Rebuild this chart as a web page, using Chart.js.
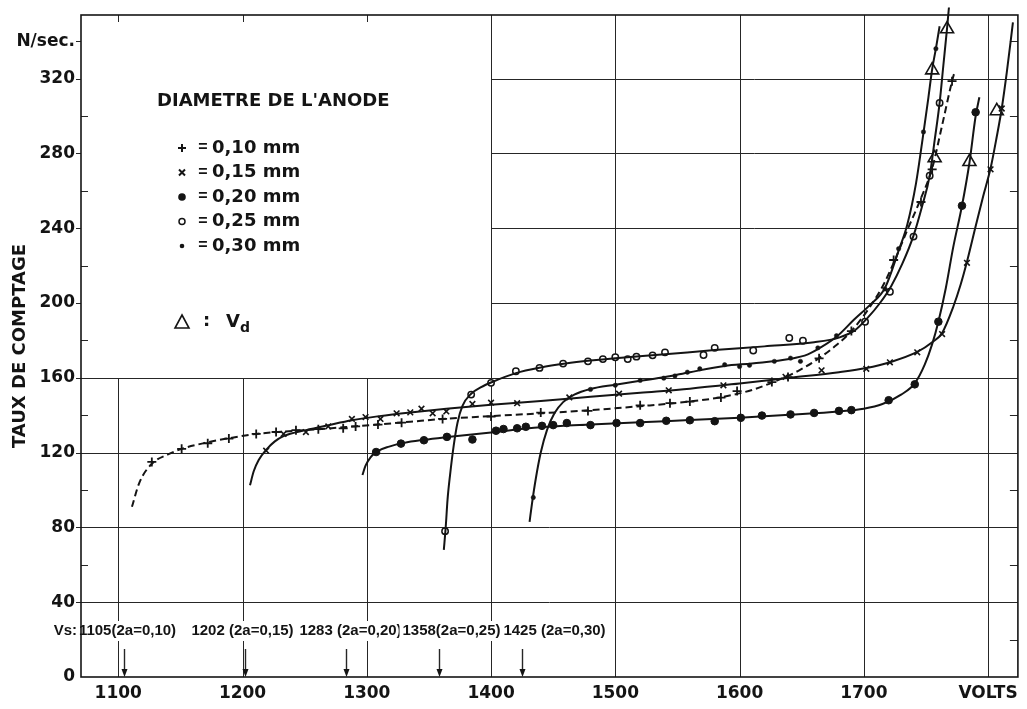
<!DOCTYPE html>
<html>
<head>
<meta charset="utf-8">
<script src="https://cdn.jsdelivr.net/npm/chart.js@4/dist/chart.umd.min.js"></script>
<style>
  html, body { margin: 0; padding: 0; background: #fff; }
</style>
</head>
<body>
<canvas id="chart" width="1027" height="709"></canvas>
<script>
// Axis ranges and tick labels
const xRange = [1070, 1824];
const yRange = [0, 354];
const xTickLabels = { 1100: '1100', 1200: '1200', 1300: '1300', 1400: '1400', 1500: '1500', 1600: '1600', 1700: '1700', 1800: 'VOLTS' };
const yTickLabels = { 0: '0', 40: '40', 80: '80', 120: '120', 160: '160', 200: '200', 240: '240', 280: '280', 320: '320', 340: 'N/sec.' };
const gridX = [1100, 1200, 1300, 1400, 1500, 1600, 1700, 1800];
const gridY = [40, 80, 120, 160, 200, 240, 280, 320];
const openCorner = { x: 1400, y: 160 }; // no grid up-left of this (legend area)

// Threshold voltages Vs
const vsValues = [1105, 1202, 1283, 1358, 1425];
const vsLabels = ['1105(2a=0,10)', '1202 (2a=0,15)', '1283 (2a=0,20)', '1358(2a=0,25)', '1425 (2a=0,30)'];

// Anode diameter 0,10 mm (+, dashed)
const curve010 = [[1111,91],[1117,104],[1127,114],[1140,119],[1151,122],[1172,125.5],[1190,127.8],[1211,130],[1240,131.5],[1261,132.5],[1290,134],[1309,135],[1335,136.5],[1361,138],[1400,139.5],[1440,141],[1478,142.6],[1520,144.8],[1560,147.3],[1585,149.6],[1610,153.5],[1630,158.5],[1648,164],[1664,170.5],[1678,177.5],[1690,185],[1705,198],[1716,210],[1725,223],[1735,239],[1746,256],[1755,272],[1763,295],[1771,318.6],[1773,323.5]];
const marks010 = [[1127,115],[1151,122],[1172,125],[1189,127.5],[1211,130],[1227,131],[1243,132],[1261,132.5],[1281,133],[1291,134],[1309,135],[1328,136],[1361,138],[1400,139.3],[1440,141.4],[1478,142.3],[1520,145.3],[1544,146.4],[1560,147.3],[1585,149.4],[1598,152.9],[1626,157.7],[1639,160.4],[1664,170.4],[1690,185],[1724,223],[1746,254],[1755,271.5],[1771,318.6]];

// 0,15 mm (x)
const curve015 = [[1206,102.5],[1209,110],[1213,116],[1219,121.5],[1226,126],[1233,128.8],[1251,132],[1270,134.8],[1288,137.3],[1310,139.5],[1335,141.5],[1364,143.5],[1400,145.6],[1440,147.6],[1480,149.8],[1520,152],[1560,154.2],[1600,157],[1640,160],[1680,163],[1702,165.2],[1721,168.3],[1743,173.8],[1755,179],[1763,184],[1772,198],[1778,210],[1783,222],[1790,241],[1796,257],[1802,272],[1807,289],[1811,304],[1815,323],[1820,350]];
const marks015 = [[1219,121],[1233,130],[1251,131],[1269,134],[1288,138],[1299,139],[1311,138],[1324,141],[1335,141.5],[1344,143.5],[1353,141],[1364,142],[1385,146],[1400,146.7],[1421,146.4],[1463,149.5],[1503,151.5],[1543,153.3],[1587,156],[1637,160.5],[1666,164],[1702,164.8],[1721,168.3],[1743,173.6],[1763,183.4],[1783,221.5],[1802,271.5],[1811,304]];

// 0,20 mm (filled dots)
const curve020 = [[1296.5,108],[1299,113],[1303,117.5],[1308,120.5],[1318,123.2],[1330,125.2],[1346,126.8],[1365,128.3],[1400,130.8],[1440,133.5],[1480,135],[1520,136.2],[1560,137.4],[1600,138.6],[1640,140.2],[1680,142],[1700,143.5],[1715,146],[1730,151],[1741,157],[1749,167],[1755,178],[1760,190],[1766,208],[1772,230],[1779,252],[1785,275],[1790,300],[1793,310]];
const marks020 = [[1307.5,120.3],[1327.5,124.8],[1346,126.6],[1364.5,128.4],[1385,127],[1404,131.7],[1410,132.6],[1421,133],[1428,133.8],[1441,134.3],[1450,134.7],[1461,135.8],[1480,134.7],[1501,135.8],[1520,135.8],[1541,137],[1560,137.3],[1580,136.8],[1601,138.6],[1618,139.8],[1641,140.4],[1660,141.2],[1680,142.3],[1690,142.7],[1720,148],[1741,156.5],[1760,190],[1779,252],[1790,302]];

// 0,25 mm (open circles)
const curve025 = [[1362,68],[1363.5,80],[1365,95],[1367,108],[1370,124],[1373,136],[1377,145],[1384,151.5],[1392,155],[1400,157.5],[1420,162.5],[1440,165.5],[1460,167.6],[1480,169.2],[1500,170.5],[1540,172.6],[1580,174.8],[1620,176.8],[1660,179],[1680,181.5],[1693,185.5],[1703,192],[1713,200],[1722,209],[1731,221],[1740,236],[1747,252],[1753,268],[1757,287],[1761,307],[1764,327],[1767,347],[1768.5,358]];
const marks025 = [[1363,78],[1384,151],[1400,157.3],[1420,163.5],[1439,165.3],[1458,167.6],[1478,168.8],[1490,170],[1500,171],[1510,170],[1517,171.3],[1530,172],[1540,173.6],[1571,172.2],[1580,176],[1611,174.6],[1640,181.3],[1651,179.8],[1701,190],[1721,206],[1740,235.5],[1753,268],[1761,307]];

// 0,30 mm (small dots)
const curve030 = [[1431,83],[1433,93],[1436,106],[1440,120],[1445,132],[1451,141],[1458,147],[1467,151],[1480,154],[1500,156.3],[1520,158.4],[1540,160.4],[1560,163],[1588,166.3],[1610,167.7],[1640,170],[1655,172.5],[1666,176.5],[1679,182.5],[1692,191],[1705,199],[1717,208],[1728,228],[1735,242],[1742,264],[1748,291],[1752,310],[1755,325],[1758,336],[1761,348]];
const marks030 = [[1434,96],[1480,153.8],[1500,156],[1520,158.6],[1539,159.8],[1548,161],[1558,163],[1568,164.8],[1588,167],[1600,166],[1608,166.7],[1628,168.8],[1641,170.5],[1649,168.8],[1663,176],[1678,182.5],[1717,207.5],[1728,229],[1748,291.5],[1758,336]];

// Vd points (triangles)
const vdPoints = [[1757,277.5],[1755,324.5],[1767,346.5],[1785,275.5],[1807,302.7]];

const INK = '#141414';
const FONT = "'DejaVu Sans', sans-serif";
const NARROW = "'Liberation Sans', 'Arial', sans-serif";

function curve(data, dashed) {
  return {
    data, showLine: true, pointRadius: 0, borderColor: INK, borderWidth: 2,
    borderDash: dashed ? [7, 4] : [], cubicInterpolationMode: 'monotone', fill: false
  };
}
function marks(data, style, radius, fillColor, width) {
  return {
    data, showLine: false, pointStyle: style, pointRadius: radius,
    backgroundColor: fillColor, borderColor: INK, borderWidth: width
  };
}

// grid, frame and Vs arrows
const framePlugin = {
  id: 'frame',
  beforeDatasetsDraw(chart) {
    const { ctx, chartArea: a, scales: { x, y } } = chart;
    const px = v => Math.round(x.getPixelForValue(v)) + 0.5;
    const py = v => Math.round(y.getPixelForValue(v)) + 0.5;
    ctx.save();
    ctx.strokeStyle = '#262626';
    ctx.lineWidth = 1;
    ctx.beginPath();
    gridY.forEach(v => {
      const left = v <= openCorner.y ? a.left : px(openCorner.x);
      ctx.moveTo(left, py(v)); ctx.lineTo(a.right, py(v));
    });
    gridX.forEach(v => {
      const top = v < openCorner.x ? py(openCorner.y) : a.top;
      ctx.moveTo(px(v), a.bottom); ctx.lineTo(px(v), top);
      if (v < openCorner.x) { ctx.moveTo(px(v), a.top); ctx.lineTo(px(v), a.top + 7); }
    });
    y.ticks.forEach(t => {
      const v = t.value;
      if (v === 0) return;
      if (yTickLabels[v] !== undefined) {
        ctx.moveTo(a.left - 5, py(v)); ctx.lineTo(a.left, py(v));
      } else {
        ctx.moveTo(a.left, py(v)); ctx.lineTo(a.left + 7, py(v));
      }
      if (!gridY.includes(v)) { ctx.moveTo(a.right - 8, py(v)); ctx.lineTo(a.right, py(v)); }
    });
    ctx.stroke();

    // Vs labels and arrows
    const textY = 631;
    const shift = [3, -3, 4, 12, 32];
    ctx.font = 'bold 15px ' + NARROW;
    ctx.textBaseline = 'middle';
    ctx.textAlign = 'center';
    vsValues.forEach((v, i) => {
      const cx = px(v) + shift[i];
      const w = ctx.measureText(vsLabels[i]).width;
      ctx.fillStyle = '#fff';
      ctx.fillRect(cx - w / 2 - 3, textY - 10, w + 6, 20);
      ctx.fillStyle = INK;
      ctx.fillText(vsLabels[i], cx, textY);
      const ax = px(v), top = textY + 18, tip = a.bottom;
      ctx.beginPath();
      ctx.moveTo(ax, top); ctx.lineTo(ax, tip - 5);
      ctx.lineWidth = 1.4; ctx.stroke();
      ctx.beginPath();
      ctx.moveTo(ax - 3, tip - 8); ctx.lineTo(ax + 3, tip - 8); ctx.lineTo(ax, tip);
      ctx.closePath(); ctx.fill();
    });
    ctx.textAlign = 'right';
    const w0 = ctx.measureText('Vs:').width;
    ctx.fillStyle = '#fff';
    ctx.fillRect(a.left - w0 - 6, textY - 10, w0 + 4, 20);
    ctx.fillStyle = INK;
    ctx.fillText('Vs:', a.left - 4, textY);

    ctx.lineWidth = 1.6;
    ctx.strokeStyle = INK;
    ctx.strokeRect(a.left, a.top, a.right - a.left, a.bottom - a.top);
    ctx.restore();
  },
  afterDatasetsDraw(chart) {
    const { ctx } = chart;
    ctx.save();
    ctx.fillStyle = INK;
    ctx.strokeStyle = INK;
    ctx.textBaseline = 'middle';
    ctx.textAlign = 'left';
    ctx.font = 'bold 18px ' + FONT;
    ctx.fillText("DIAMETRE DE L'ANODE", 157, 101);

    const rows = [
      ['plus', '0,10 mm'], ['cross', '0,15 mm'], ['dot', '0,20 mm'],
      ['ring', '0,25 mm'], ['small', '0,30 mm']
    ];
    rows.forEach(([sym, label], i) => {
      const cy = 148 + i * 24.5, sx = 182;
      ctx.lineWidth = 2;
      ctx.beginPath();
      if (sym === 'plus') { ctx.moveTo(sx - 4, cy); ctx.lineTo(sx + 4, cy); ctx.moveTo(sx, cy - 4); ctx.lineTo(sx, cy + 4); ctx.stroke(); }
      if (sym === 'cross') { ctx.moveTo(sx - 3, cy - 3); ctx.lineTo(sx + 3, cy + 3); ctx.moveTo(sx + 3, cy - 3); ctx.lineTo(sx - 3, cy + 3); ctx.stroke(); }
      if (sym === 'dot') { ctx.arc(sx, cy, 3.8, 0, Math.PI * 2); ctx.fill(); }
      if (sym === 'ring') { ctx.lineWidth = 1.5; ctx.arc(sx, cy, 3, 0, Math.PI * 2); ctx.stroke(); }
      if (sym === 'small') { ctx.arc(sx, cy, 2.3, 0, Math.PI * 2); ctx.fill(); }
      ctx.textAlign = 'center';
      ctx.font = 'bold 16px ' + NARROW;
      ctx.fillText('=', 203, cy);
      ctx.textAlign = 'left';
      ctx.font = 'bold 18px ' + FONT;
      ctx.fillText(label, 212, cy);
    });

    // Vd legend
    const ty = 322;
    ctx.lineWidth = 1.6;
    ctx.beginPath();
    ctx.moveTo(182, ty - 7); ctx.lineTo(189, ty + 6); ctx.lineTo(175, ty + 6); ctx.closePath();
    ctx.stroke();
    ctx.font = 'bold 18px ' + FONT;
    ctx.fillText(':', 203, ty - 1);
    ctx.fillText('V', 226, ty);
    ctx.font = 'bold 14px ' + FONT;
    ctx.fillText('d', 240, ty + 6);
    ctx.restore();
  }
};

new Chart(document.getElementById('chart'), {
  type: 'scatter',
  data: {
    datasets: [
      curve(curve010, true),
      curve(curve015, false),
      curve(curve020, false),
      Object.assign(curve(curve025, false), { clip: false }),
      curve(curve030, false),
      marks(marks010, 'cross', 4.5, INK, 1.8),
      marks(marks015, 'crossRot', 4, INK, 1.6),
      marks(marks020, 'circle', 3.8, INK, 1),
      marks(marks025, 'circle', 3.2, '#fff', 1.5),
      marks(marks030, 'circle', 2.2, INK, 0.5),
      marks(vdPoints, 'triangle', 7.5, '#fff', 1.6)
    ]
  },
  options: {
    responsive: false,
    animation: false,
    events: [],
    layout: { padding: { top: 15, right: 5, left: 0, bottom: 0 } },
    plugins: { legend: { display: false }, tooltip: { enabled: false } },
    scales: {
      x: {
        type: 'linear', min: xRange[0], max: xRange[1],
        grid: { display: false, drawTicks: false },
        border: { display: false },
        ticks: {
          stepSize: 100, includeBounds: false, autoSkip: false, maxRotation: 0,
          padding: 6, color: INK, font: { family: FONT, size: 17, weight: 'bold' },
          callback: v => xTickLabels[v] ?? ''
        },
        afterFit: s => { s.height = 32; s.paddingLeft = 0; s.paddingRight = 0; }
      },
      y: {
        type: 'linear', min: yRange[0], max: yRange[1],
        grid: { display: false, drawTicks: false },
        border: { display: false },
        ticks: {
          stepSize: 20, includeBounds: false, autoSkip: false,
          padding: 6, color: INK, font: { family: FONT, size: 17, weight: 'bold' },
          callback: v => yTickLabels[v] ?? ''
        },
        title: {
          display: true, text: 'TAUX DE COMPTAGE', color: INK,
          font: { family: FONT, size: 18, weight: 'bold' }, padding: { top: 10, bottom: 0 }
        },
        afterFit: s => { s.width = 81; s.paddingTop = 0; s.paddingBottom = 0; }
      }
    }
  },
  plugins: [framePlugin]
});
</script>
</body>
</html>
